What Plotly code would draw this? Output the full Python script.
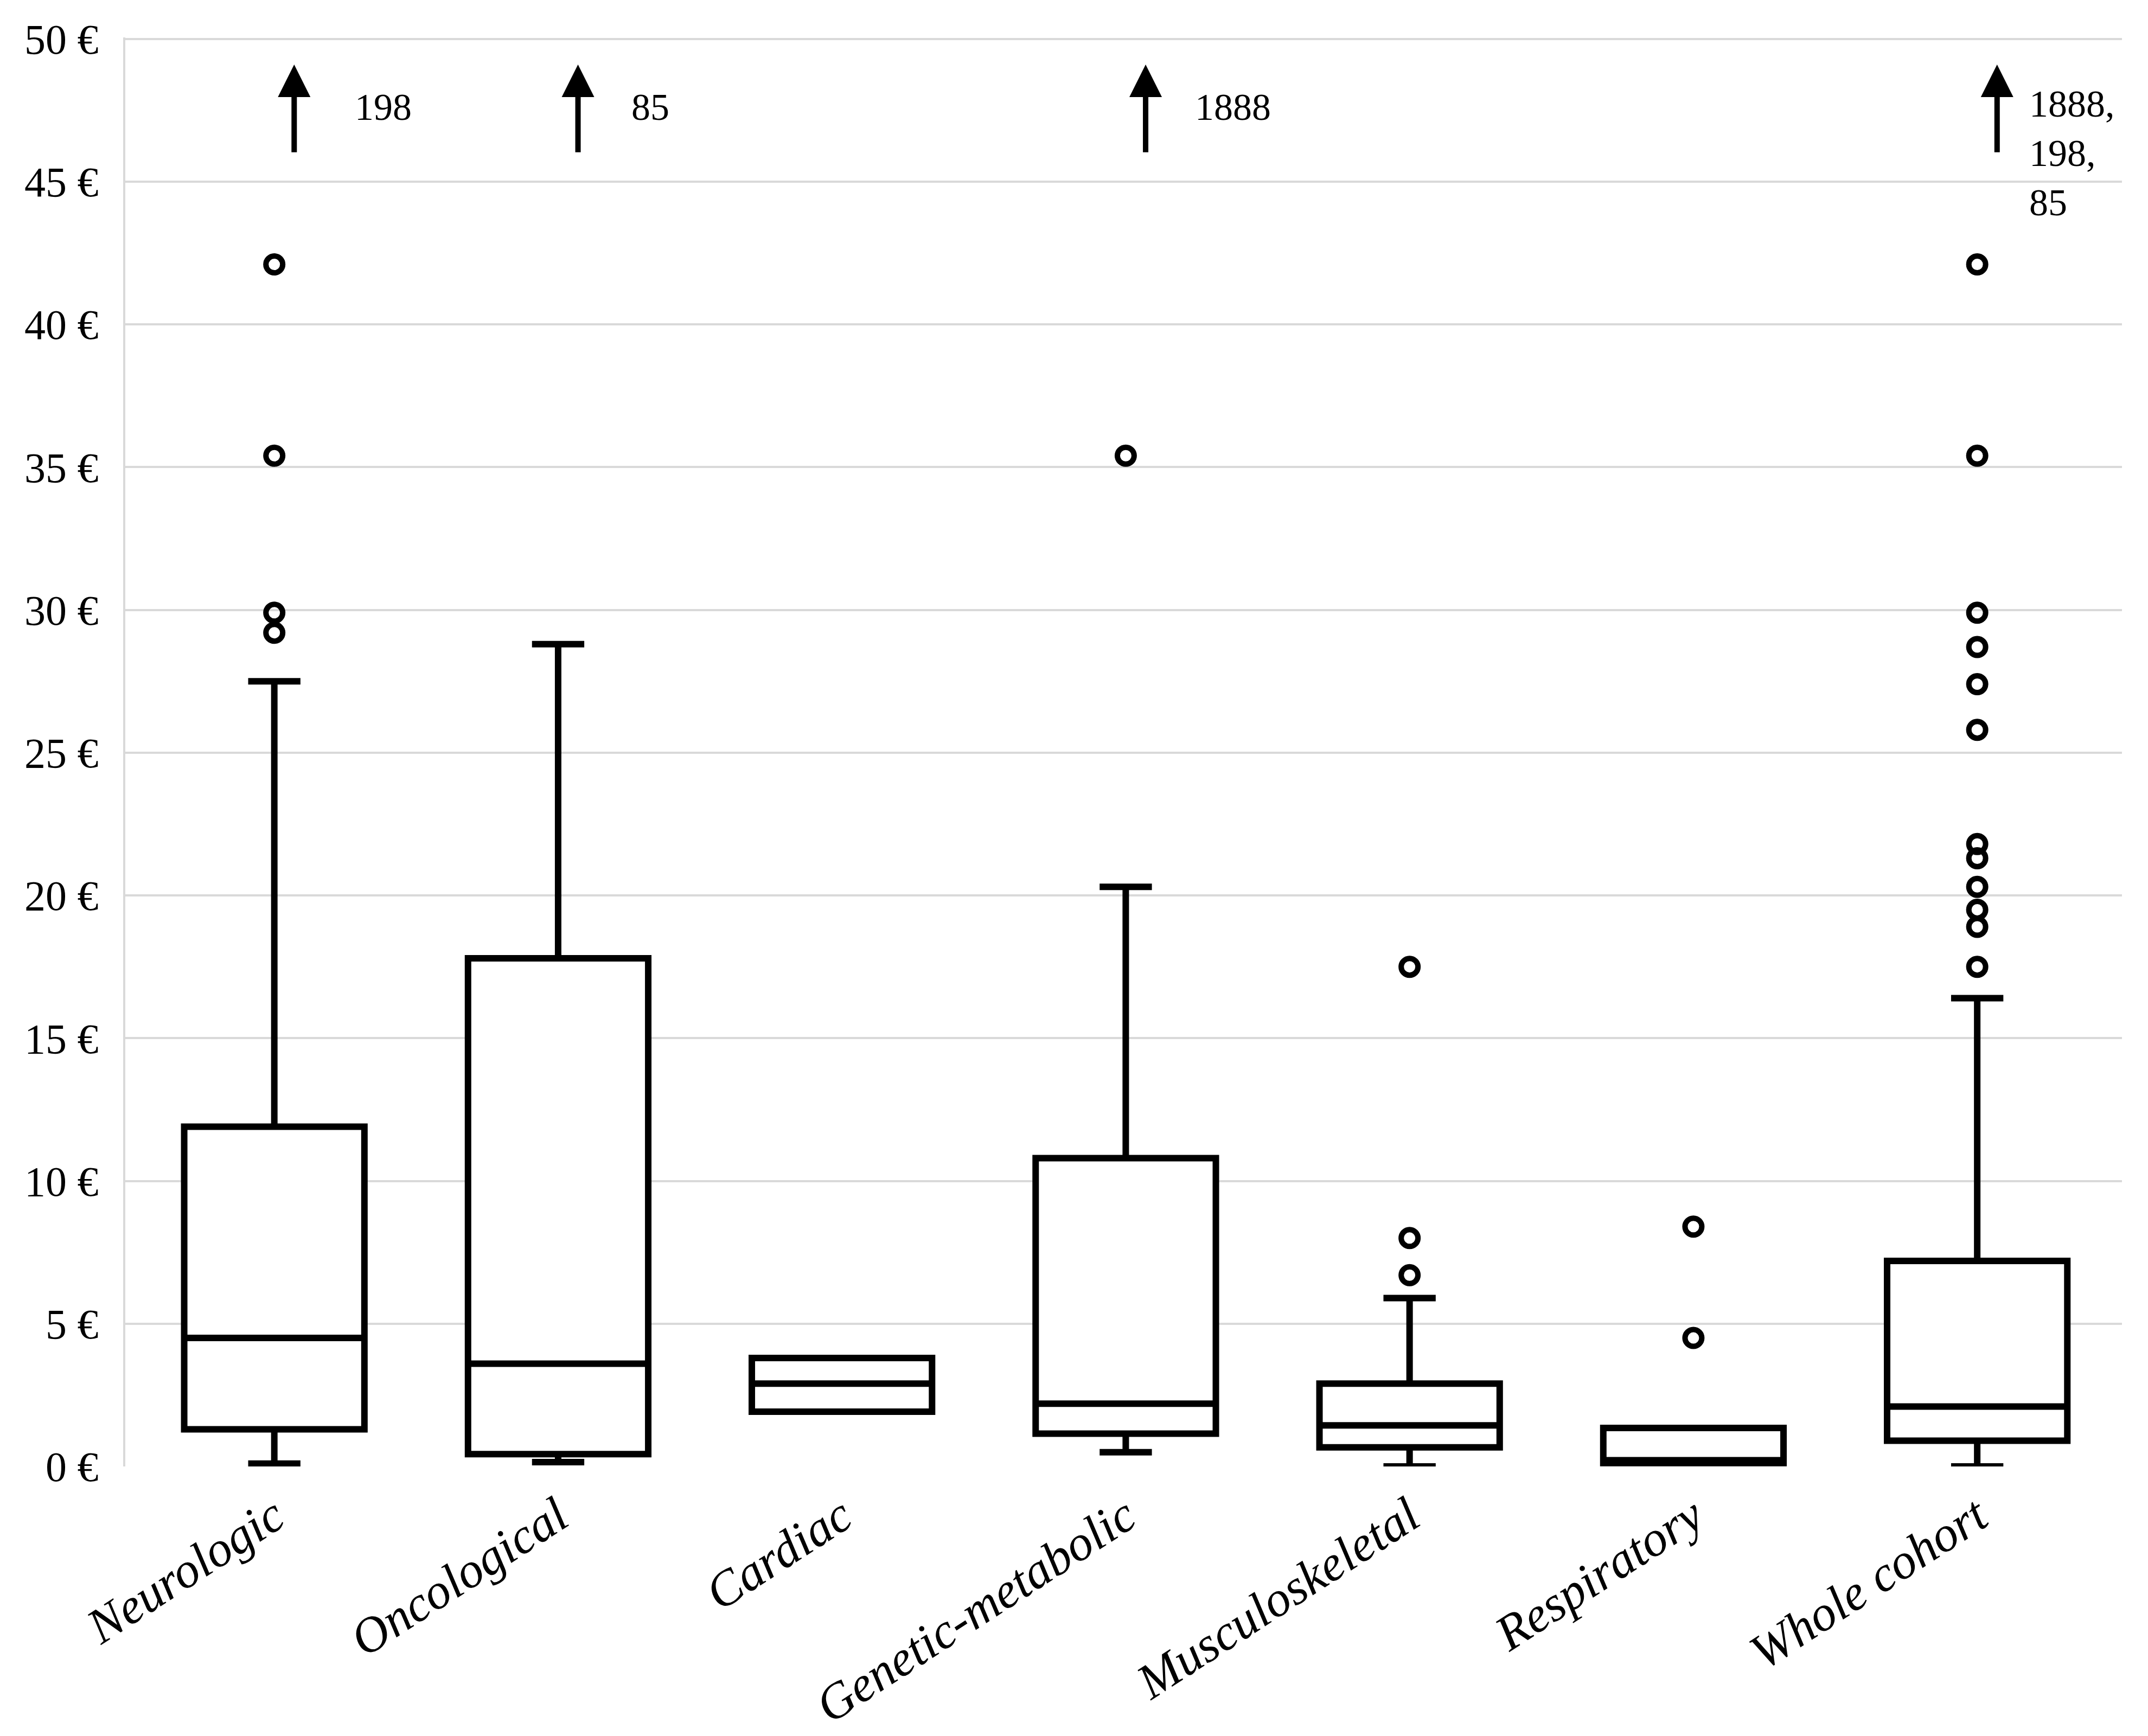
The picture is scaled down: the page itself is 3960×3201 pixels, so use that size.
import plotly.graph_objects as go

categories = ["Neurologic", "Oncological", "Cardiac", "Genetic-metabolic",
              "Musculoskeletal", "Respiratory", "Whole cohort"]
q1 = [1.3, 0.43, 1.92, 1.15, 0.67, 0.12, 0.9]
median = [4.5, 3.6, 2.9, 2.2, 1.44, 0.22, 2.1]
q3 = [11.9, 17.8, 3.8, 10.8, 2.9, 1.35, 7.2]
lowerfence = [0.1, 0.15, 1.92, 0.5, 0.0, 0.12, 0.0]
upperfence = [27.5, 28.8, 3.8, 20.3, 5.9, 1.35, 16.4]

outliers = {
    "Neurologic": [29.2, 29.9, 35.4, 42.1],
    "Oncological": [],
    "Cardiac": [],
    "Genetic-metabolic": [35.4],
    "Musculoskeletal": [6.7, 8.0, 17.5],
    "Respiratory": [4.5, 8.4],
    "Whole cohort": [17.5, 18.9, 19.5, 20.3, 21.3, 21.8, 25.8, 27.4, 28.7, 29.9, 35.4, 42.1],
}
# off-scale values indicated by arrows
offscale = {
    "Neurologic": "198",
    "Oncological": "85",
    "Genetic-metabolic": "1888",
    "Whole cohort": "1888,<br>198,<br>85",
}

ytick_vals = [0, 5, 10, 15, 20, 25, 30, 35, 40, 45, 50]
ytick_text = [f"{v} €" for v in ytick_vals]

FONT = "Liberation Serif"
xidx = list(range(len(categories)))

fig = go.Figure()
fig.add_trace(go.Box(
    x=xidx, q1=q1, median=median, q3=q3,
    lowerfence=lowerfence, upperfence=upperfence,
    boxpoints=False, width=0.635, whiskerwidth=0.29,
    line=dict(color="black", width=12), fillcolor="white",
    showlegend=False, hoverinfo="skip",
))

ox, oy = [], []
for i, c in enumerate(categories):
    for v in outliers[c]:
        ox.append(i)
        oy.append(v)
fig.add_trace(go.Scatter(
    x=ox, y=oy, mode="markers",
    marker=dict(symbol="circle-open", size=31, color="black", line=dict(width=10)),
    showlegend=False, hoverinfo="skip",
))

label_dx = {"Neurologic": 0.28, "Oncological": 0.255, "Genetic-metabolic": 0.24,
            "Whole cohort": 0.18}
for i, c in enumerate(categories):
    if c in offscale:
        fig.add_annotation(
            x=i + 0.07, y=49.1, ax=i + 0.07, ay=46.0,
            xref="x", yref="y", axref="x", ayref="y",
            text="", showarrow=True, arrowhead=2, arrowsize=1.2,
            arrowwidth=10, arrowcolor="black",
        )
        multi = "<br>" in offscale[c]
        fig.add_annotation(
            x=i + label_dx[c], y=48.5 if multi else 47.6,
            xref="x", yref="y", text=offscale[c], showarrow=False,
            xanchor="left", yanchor="top" if multi else "middle",
            align="left",
            font=dict(family=FONT, size=70, color="black"),
        )

fig.update_layout(
    width=3960, height=3201,
    margin=dict(l=223, r=56, t=61, b=505),
    plot_bgcolor="white", paper_bgcolor="white",
    font=dict(family=FONT, color="black"),
)
fig.update_xaxes(
    range=[-0.525, 6.51], automargin=False,
    tickmode="array", tickvals=xidx, ticktext=categories,
    tickangle=-33, ticks="", showgrid=False, zeroline=False,
    showline=False,
    tickfont=dict(family=FONT, size=92, style="italic", color="black"),
    ticklabelstandoff=20,
)
fig.update_yaxes(
    range=[0, 50.05], automargin=False,
    tickmode="array", tickvals=ytick_vals, ticktext=ytick_text,
    showgrid=True, gridcolor="#d9d9d9", gridwidth=4,
    zeroline=False, showline=True, linecolor="#d9d9d9", linewidth=4,
    ticks="", tickfont=dict(family=FONT, size=78, color="black"),
    ticklabelstandoff=30,
)

fig.write_html("out.html")
